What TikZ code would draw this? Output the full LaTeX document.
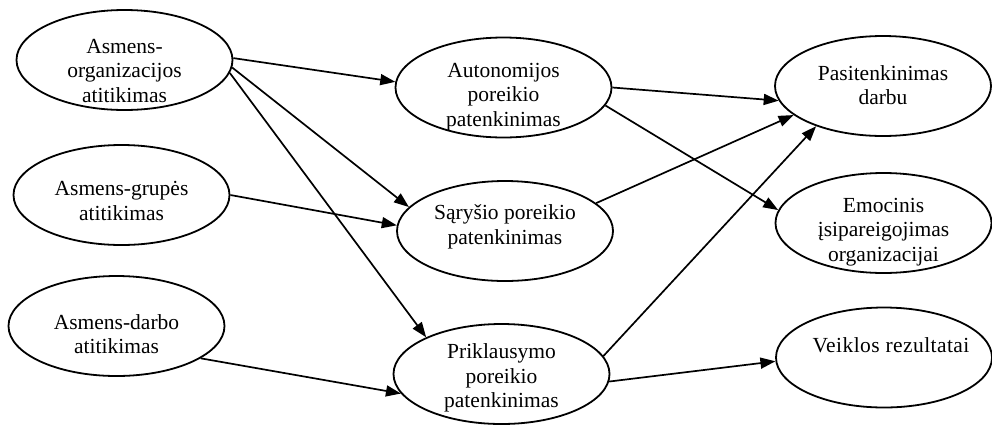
\documentclass[tikz,border=0pt]{standalone}
\usepackage{fontspec}
\setmainfont{Liberation Serif}
\usetikzlibrary{shapes.geometric,arrows.meta}
\begin{document}
\begin{tikzpicture}[x=1pt,y=-1pt,
  oval/.style={ellipse,draw,line width=1.8pt,minimum width=216pt,minimum height=100pt,inner sep=0pt},
  lbl/.style={align=center,inner sep=0pt,font=\fontsize{21.5}{24.5}\selectfont},
  link/.style={line width=1.7pt,-{Triangle[length=15pt,width=11pt]}}]
\useasboundingbox (0,0) rectangle (992,424);

% fit constructs (left column)
\node[oval] (ao) at (124.5,60) {};
\node[lbl] (aot) at (124.5,71) {Asmens-\\organizacijos\\atitikimas};
\node[oval] (ag) at (121.5,195) {};
\node[lbl] (agt) at (121.5,201) {Asmens-grupės\\atitikimas};
\node[oval] (ad) at (116.5,326) {};
\node[lbl] (adt) at (116.5,334) {Asmens-darbo\\atitikimas};

% need satisfaction (middle column)
\node[oval] (au) at (503.5,87.5) {};
\node[lbl] (aut) at (503.5,97) {Autonomijos\\poreikio\\patenkinimas};
\node[oval] (sa) at (505,231) {};
\node[lbl] (sat) at (505,227) {Sąryšio poreikio\\patenkinimas};
\node[oval] (pr) at (501.5,374) {};
\node[lbl] (prt) at (501.5,378) {Priklausymo\\poreikio\\patenkinimas};

% outcomes (right column)
\node[oval] (pa) at (883,86) {};
\node[lbl] (pat) at (883,85) {Pasitenkinimas\\darbu};
\node[oval] (em) at (883.5,223) {};
\node[lbl] (emt) at (883.5,232) {Emocinis\\įsipareigojimas\\organizacijai};
\node[oval] (ve) at (884,357.5) {};
\node[lbl] (vet) at (891,345) {\addfontfeature{LetterSpace=2}Veiklos rezultatai};

% paths
\draw[link] (ao.1) -- (au.177);
\draw[link] (ao.-4) -- (sa.166);
\draw[link] (ao.-7) -- (pr.154);
\draw[link] (ag.0) -- (sa.177);
\draw[link] (ad.-21) -- (pr.191);
\draw[link] (au.0) -- (pa.188);
\draw[link] (au.-10) -- (em.173);
\draw[link] (sa.17) -- (pa.198);
\draw[link] (pr.10) -- (pa.211);
\draw[link] (pr.-4) -- (ve.182);
\end{tikzpicture}
\end{document}
